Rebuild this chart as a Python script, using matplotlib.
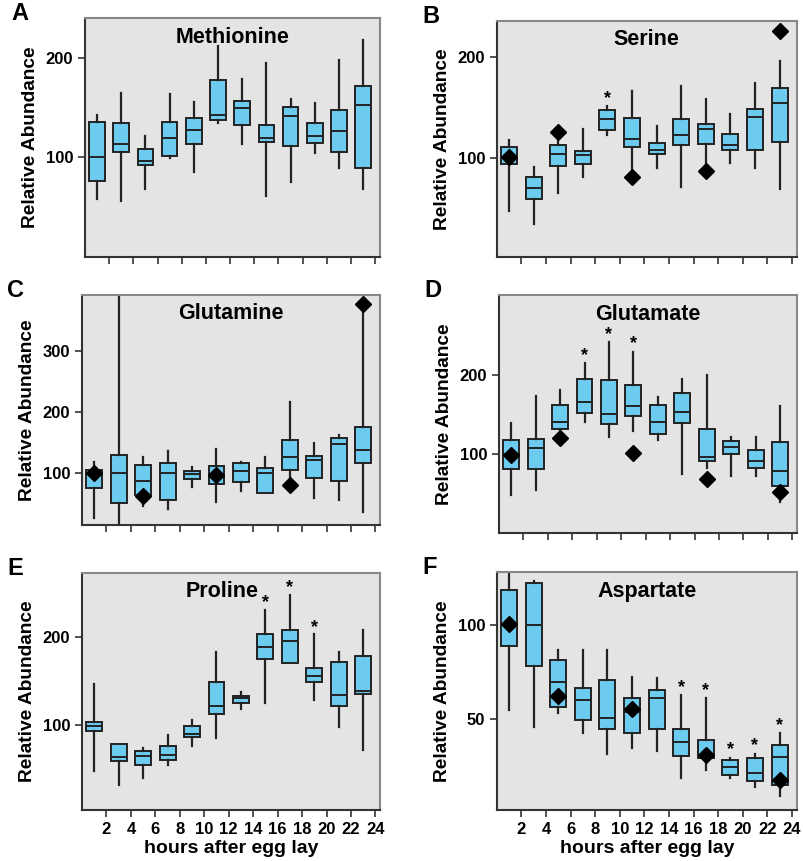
import matplotlib
matplotlib.use('Agg')
import matplotlib.pyplot as plt

plt.rcParams['font.family'] = ['Liberation Sans', 'DejaVu Sans']
plt.rcParams['font.weight'] = 'bold'

hours = [1, 3, 5, 7, 9, 11, 13, 15, 17, 19, 21, 23]

# each panel: whisker low, Q1, median, Q3, whisker high
met_lo = [58, 56, 68, 99, 85, 135, 113, 61, 75, 104, 89, 68]
met_q1 = [76, 105, 92, 101, 113, 138, 133, 115, 111, 114, 105, 89]
met_med = [100, 113, 96, 119, 128, 143, 150, 119, 142, 122, 127, 153]
met_q3 = [136, 135, 108, 136, 140, 178, 157, 133, 151, 135, 148, 172]
met_hi = [143, 165, 122, 164, 156, 212, 179, 195, 159, 155, 198, 218]

ser_lo = [48, 35, 65, 81, 123, 88, 90, 71, 95, 95, 90, 69]
ser_q1 = [94, 60, 92, 94, 128, 111, 104, 113, 114, 108, 108, 116]
ser_med = [100, 70, 104, 103, 139, 119, 108, 123, 129, 113, 141, 155]
ser_q3 = [111, 81, 113, 107, 148, 140, 115, 139, 134, 124, 149, 170]
ser_hi = [118, 91, 117, 129, 152, 167, 132, 172, 159, 144, 175, 196]
ser_out_x = [1, 5, 11, 17, 23]
ser_out_y = [101, 126, 81, 87, 226]
ser_star_x = [9]
ser_star_y = [159]

gln_lo = [25, 17, 46, 41, 77, 51, 70, 66, 88, 58, 55, 36]
gln_q1 = [74, 50, 63, 55, 90, 81, 84, 67, 105, 91, 86, 116]
gln_med = [100, 100, 87, 100, 98, 98, 102, 100, 125, 121, 147, 137]
gln_q3 = [104, 129, 112, 115, 102, 110, 116, 108, 153, 127, 156, 174]
gln_hi = [118, 420, 125, 136, 109, 138, 118, 125, 215, 149, 161, 376]
gln_out_x = [1, 5, 11, 17, 23]
gln_out_y = [100, 61, 96, 79, 376]

glu_lo = [48, 55, 129, 141, 122, 129, 118, 75, 82, 72, 72, 39]
glu_q1 = [81, 81, 132, 152, 138, 148, 126, 139, 91, 100, 83, 59]
glu_med = [100, 108, 141, 166, 151, 161, 141, 153, 97, 109, 91, 79]
glu_q3 = [118, 119, 162, 196, 194, 188, 163, 177, 132, 117, 105, 116]
glu_hi = [140, 174, 181, 216, 242, 230, 172, 196, 200, 122, 122, 161]
glu_out_x = [1, 5, 11, 17, 23]
glu_out_y = [99, 121, 102, 69, 52]
glu_star_x = [7, 9, 11]
glu_star_y = [225, 252, 240]

pro_lo = [47, 32, 39, 54, 76, 85, 118, 125, 170, 128, 98, 71]
pro_q1 = [93, 59, 54, 60, 86, 112, 125, 175, 170, 149, 121, 135]
pro_med = [99, 63, 65, 66, 90, 122, 131, 189, 195, 156, 134, 139]
pro_q3 = [103, 78, 70, 76, 99, 149, 133, 203, 208, 165, 172, 179]
pro_hi = [146, 78, 74, 88, 105, 183, 138, 231, 248, 204, 183, 208]
pro_star_x = [15, 17, 19]
pro_star_y = [239, 256, 211]

asp_lo = [55, 46, 53.5, 43, 31.5, 35, 33, 19, 23, 19, 14, 9.5]
asp_q1 = [89, 78, 56.5, 49.5, 45, 43, 45, 30.6, 29.6, 20.4, 17.4, 15]
asp_med = [100, 100, 69.7, 60.4, 50.7, 54, 61.3, 38, 31, 24.8, 21.8, 30]
asp_q3 = [118.7, 122.4, 81.2, 66.5, 71, 61.4, 65.3, 44.7, 38.9, 28.7, 29.6, 36.3]
asp_hi = [135, 123, 86.8, 86.8, 86.8, 72.4, 72, 63, 61.4, 29.8, 31.9, 42.8]
asp_out_x = [1, 5, 11, 17, 23]
asp_out_y = [100.5, 62.3, 55.3, 31, 17.8]
asp_star_x = [15, 17, 19, 21, 23]
asp_star_y = [67, 65.3, 34.2, 36, 46.5]

panels = [
    ('A', 'Methionine', met_lo, met_q1, met_med, met_q3, met_hi, [], [], [], [],
     (0, 240), [100, 200], [0.1057, 0.7015, 0.367, 0.2776]),
    ('B', 'Serine', ser_lo, ser_q1, ser_med, ser_q3, ser_hi, ser_out_x, ser_out_y,
     ser_star_x, ser_star_y, (2, 236), [100, 200], [0.618, 0.7015, 0.373, 0.274]),
    ('C', 'Glutamine', gln_lo, gln_q1, gln_med, gln_q3, gln_hi, gln_out_x, gln_out_y,
     [], [], (14, 391), [100, 200, 300], [0.102, 0.3902, 0.371, 0.267]),
    ('D', 'Glutamate', glu_lo, glu_q1, glu_med, glu_q3, glu_hi, glu_out_x, glu_out_y,
     glu_star_x, glu_star_y, (0, 302), [100, 200], [0.6206, 0.381, 0.371, 0.2764]),
    ('E', 'Proline', pro_lo, pro_q1, pro_med, pro_q3, pro_hi, [], [],
     pro_star_x, pro_star_y, (3, 273), [100, 200], [0.102, 0.0592, 0.371, 0.2753]),
    ('F', 'Aspartate', asp_lo, asp_q1, asp_med, asp_q3, asp_hi, asp_out_x, asp_out_y,
     asp_star_x, asp_star_y, (2, 128), [50, 100], [0.618, 0.0592, 0.373, 0.2764]),
]

fig = plt.figure(figsize=(8.04, 8.61), dpi=100)

for i, (letter, name, lo, q1, med, q3, hi, ox, oy, sx, sy, ylim, yt, pos) in enumerate(panels):
    ax = fig.add_axes(pos)
    ax.set_facecolor('#e4e4e4')
    stats = [dict(whislo=a, q1=b, med=c, q3=d, whishi=e, fliers=[])
             for a, b, c, d, e in zip(lo, q1, med, q3, hi)]
    ax.bxp(stats, positions=hours, widths=1.3, patch_artist=True, showcaps=False,
           showfliers=False, manage_ticks=False,
           boxprops=dict(facecolor='#6ccbee', edgecolor='#222222', linewidth=1.4),
           whiskerprops=dict(color='#222222', linewidth=1.6),
           medianprops=dict(color='#222222', linewidth=1.4))
    if ox:
        ax.plot(ox, oy, 'D', color='black', markersize=8, zorder=5)
    for x, y in zip(sx, sy):
        ax.text(x, y, '*', ha='center', va='center', fontsize=13, fontweight='bold')
    ax.set_xlim(0, 24.4)
    ax.set_ylim(*ylim)
    ax.set_xticks(range(2, 25, 2))
    ax.set_yticks(yt)
    ax.tick_params(direction='out', length=5, width=1.2, color='#333333',
                   labelsize=12)
    if i < 4:
        ax.set_xticklabels([])
    else:
        ax.set_xlabel('hours after egg lay', fontsize=14, fontweight='bold', labelpad=2)
    ax.set_ylabel('Relative Abundance', fontsize=13.8, fontweight='bold', labelpad=5)
    for s in ['top', 'right']:
        ax.spines[s].set_color('#888888')
        ax.spines[s].set_linewidth(1.5)
    for s in ['left', 'bottom']:
        ax.spines[s].set_color('#333333')
        ax.spines[s].set_linewidth(1.5)
    # the Proline title sits a little left of centre, next to the star
    tx = 0.47 if letter == 'E' else 0.5
    ax.text(tx, 0.92, name, transform=ax.transAxes, ha='center', va='center',
            fontsize=15.5, fontweight='bold')
    ax.text(-0.25, 1.02, letter, transform=ax.transAxes, ha='left', va='center',
            fontsize=17, fontweight='bold')

fig.savefig('out.png', dpi=100)
